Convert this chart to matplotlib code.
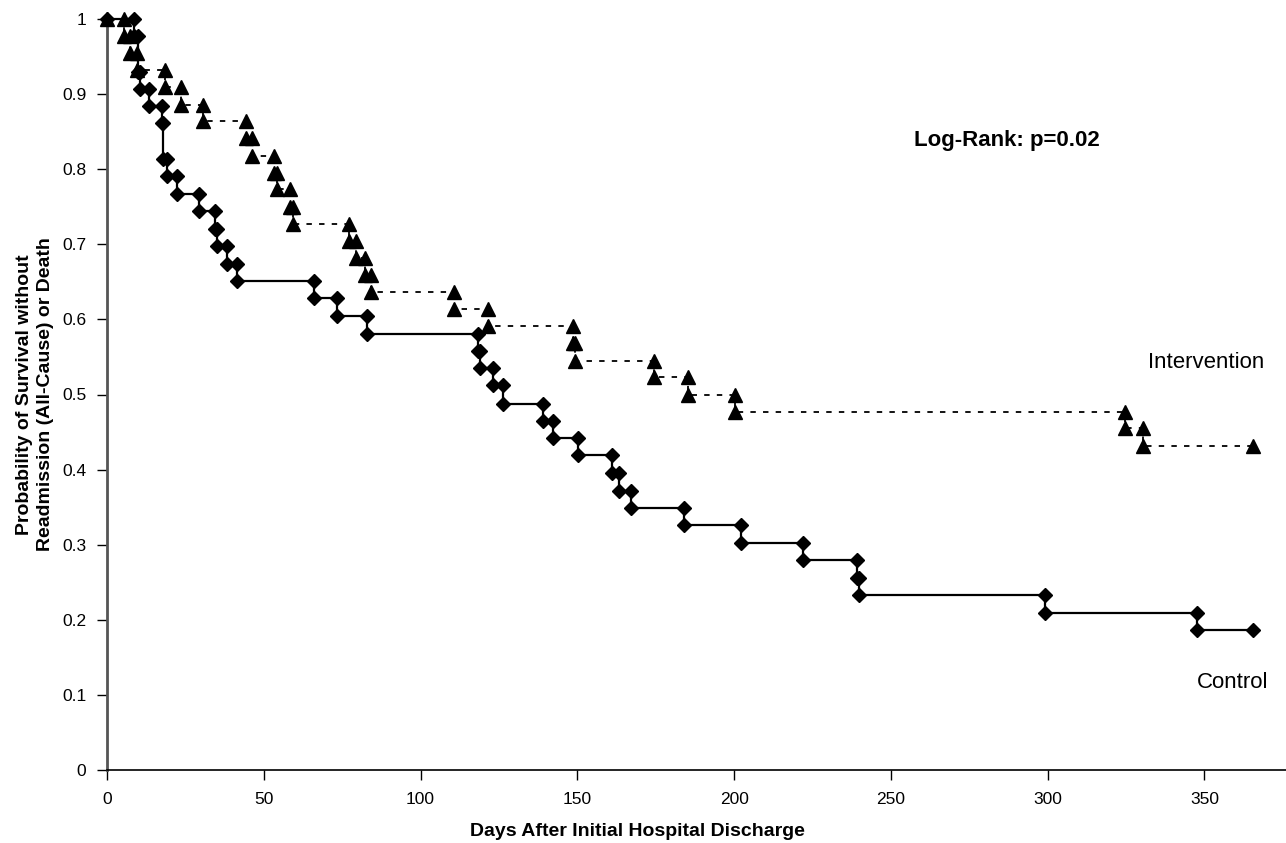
import matplotlib
matplotlib.use('Agg')
import matplotlib.pyplot as plt

# Kaplan-Meier steps: event day and survival after it
control_days = [8.6, 9.8, 10.4, 13.4, 17.5, 18.0, 19.0, 22.3, 29.3, 34.4, 35.2, 38.3, 41.5,
                66.0, 73.4, 83.0, 118.3, 119.0, 123.0, 126.3, 139.1, 142.3, 150.2, 161.1,
                163.3, 167.1, 184.0, 202.2, 222.0, 239.2, 239.8, 299.2, 347.7]
control_surv = [0.977, 0.930, 0.907, 0.884, 0.861, 0.814, 0.791, 0.767, 0.744, 0.721, 0.698,
                0.674, 0.651, 0.628, 0.605, 0.581, 0.558, 0.535, 0.512, 0.488, 0.465, 0.442,
                0.419, 0.395, 0.372, 0.349, 0.326, 0.302, 0.279, 0.256, 0.233, 0.209, 0.186]
control_end = 365.5

interv_days = [5.5, 7.4, 9.6, 18.5, 23.6, 30.6, 44.3, 46.3, 53.3, 54.2, 58.4, 59.3, 77.2,
               79.5, 82.3, 84.2, 110.7, 121.4, 148.6, 149.3, 174.5, 185.3, 200.2, 324.5, 330.5]
interv_surv = [0.977, 0.955, 0.932, 0.909, 0.886, 0.864, 0.841, 0.818, 0.795, 0.773, 0.750,
               0.727, 0.705, 0.682, 0.659, 0.636, 0.614, 0.591, 0.568, 0.545, 0.523, 0.500,
               0.477, 0.455, 0.432]
interv_end = 365.5

x_ticks = [0, 50, 100, 150, 200, 250, 300, 350]
y_ticks = [0, 0.1, 0.2, 0.3, 0.4, 0.5, 0.6, 0.7, 0.8, 0.9, 1]
y_tick_labels = ['0', '0.1', '0.2', '0.3', '0.4', '0.5', '0.6', '0.7', '0.8', '0.9', '1']


def km_points(days, surv, end_day):
    xs, ys = [0], [1.0]
    prev = 1.0
    for d, s in zip(days, surv):
        xs += [d, d]
        ys += [prev, s]
        prev = s
    xs.append(end_day)
    ys.append(prev)
    return xs, ys


plt.rcParams['font.family'] = ['Liberation Sans', 'DejaVu Sans']

fig = plt.figure(figsize=(12.86, 8.43), dpi=100)
ax = fig.add_axes([107 / 1286, 73 / 843, 1 - 107 / 1286, (770 - 19) / 843])

cx, cy = km_points(control_days, control_surv, control_end)
ix, iy = km_points(interv_days, interv_surv, interv_end)

ax.plot(ix, iy, color='black', lw=1.3, linestyle=(0, (3, 4)), marker='^', markersize=10,
        markerfacecolor='black', markeredgecolor='black', clip_on=False, zorder=3)
ax.plot(cx, cy, color='black', lw=1.6, linestyle='-', marker='D', markersize=7,
        markerfacecolor='black', markeredgecolor='black', clip_on=False, zorder=4)

ax.set_xlim(0, 376)
ax.set_ylim(0, 1)
ax.set_xticks(x_ticks)
ax.set_yticks(y_ticks)
ax.set_yticklabels(y_tick_labels)
ax.tick_params(axis='both', direction='out', length=7, width=1, labelsize=12.5)
ax.tick_params(axis='x', pad=9)
ax.tick_params(axis='y', pad=8)

for s in ['top', 'right']:
    ax.spines[s].set_visible(False)
ax.spines['left'].set_color('#555555')
ax.spines['left'].set_linewidth(2)
ax.spines['bottom'].set_linewidth(1.2)

ax.set_xlabel('Days After Initial Hospital Discharge', fontsize=14, fontweight='bold')
ax.xaxis.set_label_coords((637 - 107) / 1179, -0.071)
ax.set_ylabel('Probability of Survival without\nReadmission (All-Cause) or Death',
              fontsize=14, fontweight='bold', linespacing=1.3)
ax.yaxis.set_label_coords(-0.045, 0.5)

ax.text(287, 0.838, 'Log-Rank: p=0.02', fontsize=16, fontweight='bold',
        ha='center', va='center')
ax.text(350.5, 0.543, 'Intervention', fontsize=16, ha='center', va='center')
ax.text(359, 0.116, 'Control', fontsize=16, ha='center', va='center')

fig.savefig('out.png', dpi=100)
